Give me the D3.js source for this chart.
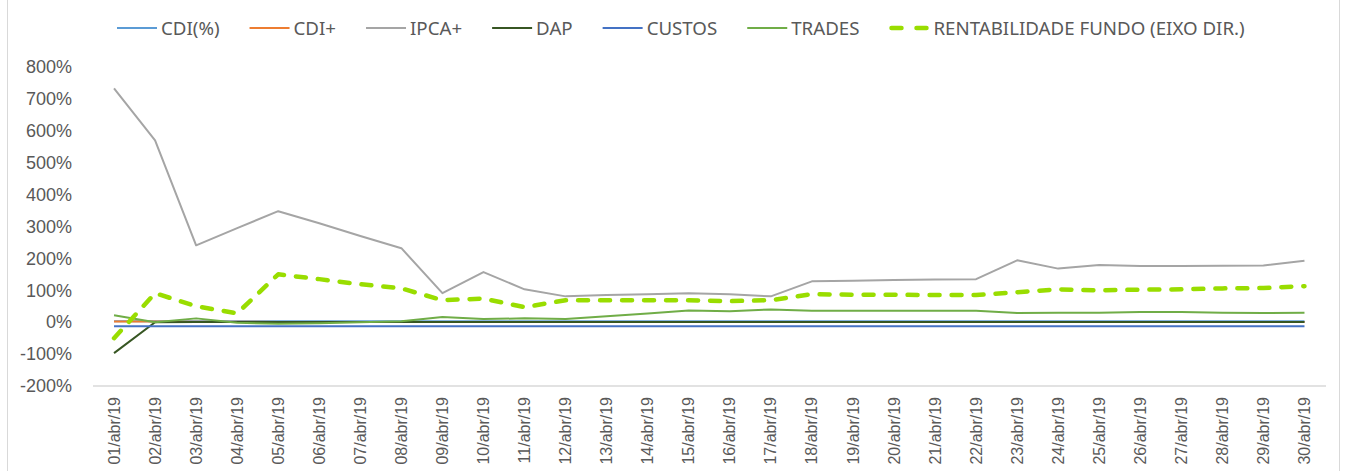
<!DOCTYPE html>
<html>
<head>
<meta charset="utf-8">
<script src="https://cdn.jsdelivr.net/npm/d3@7"></script>
<style>
  body { margin: 0; background: #fff; }
  svg { display: block; font-family: "Noto Sans", Roboto, sans-serif; }
</style>
</head>
<body>
<svg id="chart" width="1346" height="471"></svg>
<script>
// categories (days of April 2019)
const categories = ["01/abr/19","02/abr/19","03/abr/19","04/abr/19","05/abr/19","06/abr/19","07/abr/19","08/abr/19","09/abr/19","10/abr/19",
    "11/abr/19","12/abr/19","13/abr/19","14/abr/19","15/abr/19","16/abr/19","17/abr/19","18/abr/19","19/abr/19","20/abr/19",
    "21/abr/19","22/abr/19","23/abr/19","24/abr/19","25/abr/19","26/abr/19","27/abr/19","28/abr/19","29/abr/19","30/abr/19"];

// series values (%)
const cdiPct = [3,3,3,3,3,3,3,3,3,3, 3,3,3,3,3,3,3,3,3,3, 3,3,3,3,3,3,3,3,3,3];
const cdiPlus = [2,2,1.5,1.5,1,1,1,1,1,1, 1,1,1,1,1,1,1,1,1,1, 1,1,1,1,1,1,1,1,1,1];
const ipcaPlus = [733,570,241,295,348,310,270,232,91,157, 103,81,85,88,91,88,81,128,130,132, 134,135,194,168,179,176,176,177,178,193];
const dap = [-97,0,0.5,0.5,0.5,0.5,0.5,0.5,0.5,0.5, 0.5,0.5,0.5,0.5,0.5,0.5,0.5,0.5,0.5,0.5, 0.5,0.5,0.5,0.5,0.5,0.5,0.5,0.5,0.5,0.5];
const custos = [-13,-13,-13,-13,-13,-13,-13,-13,-13,-13, -13,-13,-13,-13,-13,-13,-13,-13,-13,-13, -13,-13,-13,-13,-13,-13,-13,-13,-13,-13];
const trades = [22,0,12,-2,-5,-3,0,3,16,10, 12,10,19,27,37,34,40,36,36,36, 36,36,29,30,30,32,32,30,29,30];
const rentabilidade = [-50,91,50,28,150,135,119,106,69,74, 47,69,69,69,69,66,69,88,86,86, 85,85,94,103,100,102,103,106,107,113];

const yTicks = [-200,-100,0,100,200,300,400,500,600,700,800];

const series = [
    { name: "CDI(%)", values: cdiPct, color: "#5B9BD5" },
    { name: "CDI+", values: cdiPlus, color: "#ED7D31" },
    { name: "IPCA+", values: ipcaPlus, color: "#A5A5A5" },
    { name: "DAP", values: dap, color: "#375623" },
    { name: "CUSTOS", values: custos, color: "#4472C4" },
    { name: "TRADES", values: trades, color: "#70AD47" },
    { name: "RENTABILIDADE FUNDO (EIXO DIR.)", values: rentabilidade, color: "#99DD00", dashed: true }
];

const svg = d3.select("#chart");
const textColor = "#595959";

// chart area border
svg.append("rect")
    .attr("x", 7.5).attr("y", -2)
    .attr("width", 1332).attr("height", 476)
    .attr("fill", "none")
    .attr("stroke", "#D9D9D9");

const x = d3.scaleBand()
    .domain(categories)
    .range([93.5, 1325])
    .padding(0);

const y = d3.scaleLinear()
    .domain([-200, 800])
    .range([386, 67]);

// y axis
const yAxis = svg.append("g")
    .attr("transform", "translate(72,0)")
    .call(d3.axisLeft(y).tickValues(yTicks).tickFormat(d => d + "%").tickSize(0).tickPadding(0));
yAxis.select(".domain").remove();
yAxis.selectAll("text")
    .attr("fill", textColor)
    .style("font-size", "18px")
    .style("font-stretch", "semi-condensed");

// x axis
const xAxis = svg.append("g")
    .attr("transform", `translate(0,${y(-200)})`)
    .call(d3.axisBottom(x).tickSize(0));
xAxis.select(".domain")
    .attr("d", "M93,0H1326")
    .attr("stroke", "#D9D9D9")
    .attr("stroke-width", 1.5);
xAxis.selectAll("text")
    .attr("fill", textColor)
    .style("font-size", "16px")
    .style("font-stretch", "semi-condensed")
    .attr("transform", "rotate(-90)")
    .attr("text-anchor", "end")
    .attr("x", -11)
    .attr("y", 0)
    .attr("dy", "0.35em");

// lines
const line = d3.line()
    .x((d, i) => x(categories[i]) + x.bandwidth() / 2)
    .y(d => y(d));

series.forEach(s => {
    svg.append("path")
        .datum(s.values)
        .attr("fill", "none")
        .attr("stroke", s.color)
        .attr("stroke-width", s.dashed ? 4.5 : 2)
        .attr("stroke-linejoin", "round")
        .attr("stroke-linecap", s.dashed ? "round" : "butt")
        .attr("stroke-dasharray", s.dashed ? "10,12" : null)
        .attr("d", line);
});

// legend
const legend = svg.append("g").attr("transform", "translate(117,28)");
let lx = 0;
series.forEach(s => {
    const item = legend.append("g").attr("transform", `translate(${lx},0)`);
    item.append("line")
        .attr("x1", s.dashed ? 2 : 0).attr("x2", s.dashed ? 38 : 40)
        .attr("stroke", s.color)
        .attr("stroke-width", s.dashed ? 4.5 : 2)
        .attr("stroke-linecap", s.dashed ? "round" : "butt")
        .attr("stroke-dasharray", s.dashed ? "10,15" : null);
    const t = item.append("text")
        .attr("x", 44)
        .attr("dy", "0.35em")
        .attr("fill", textColor)
        .style("font-size", "18.7px")
        .style("font-stretch", "condensed")
        .text(s.name);
    lx += 44 + t.node().getComputedTextLength() + 30;
});
</script>
</body>
</html>
